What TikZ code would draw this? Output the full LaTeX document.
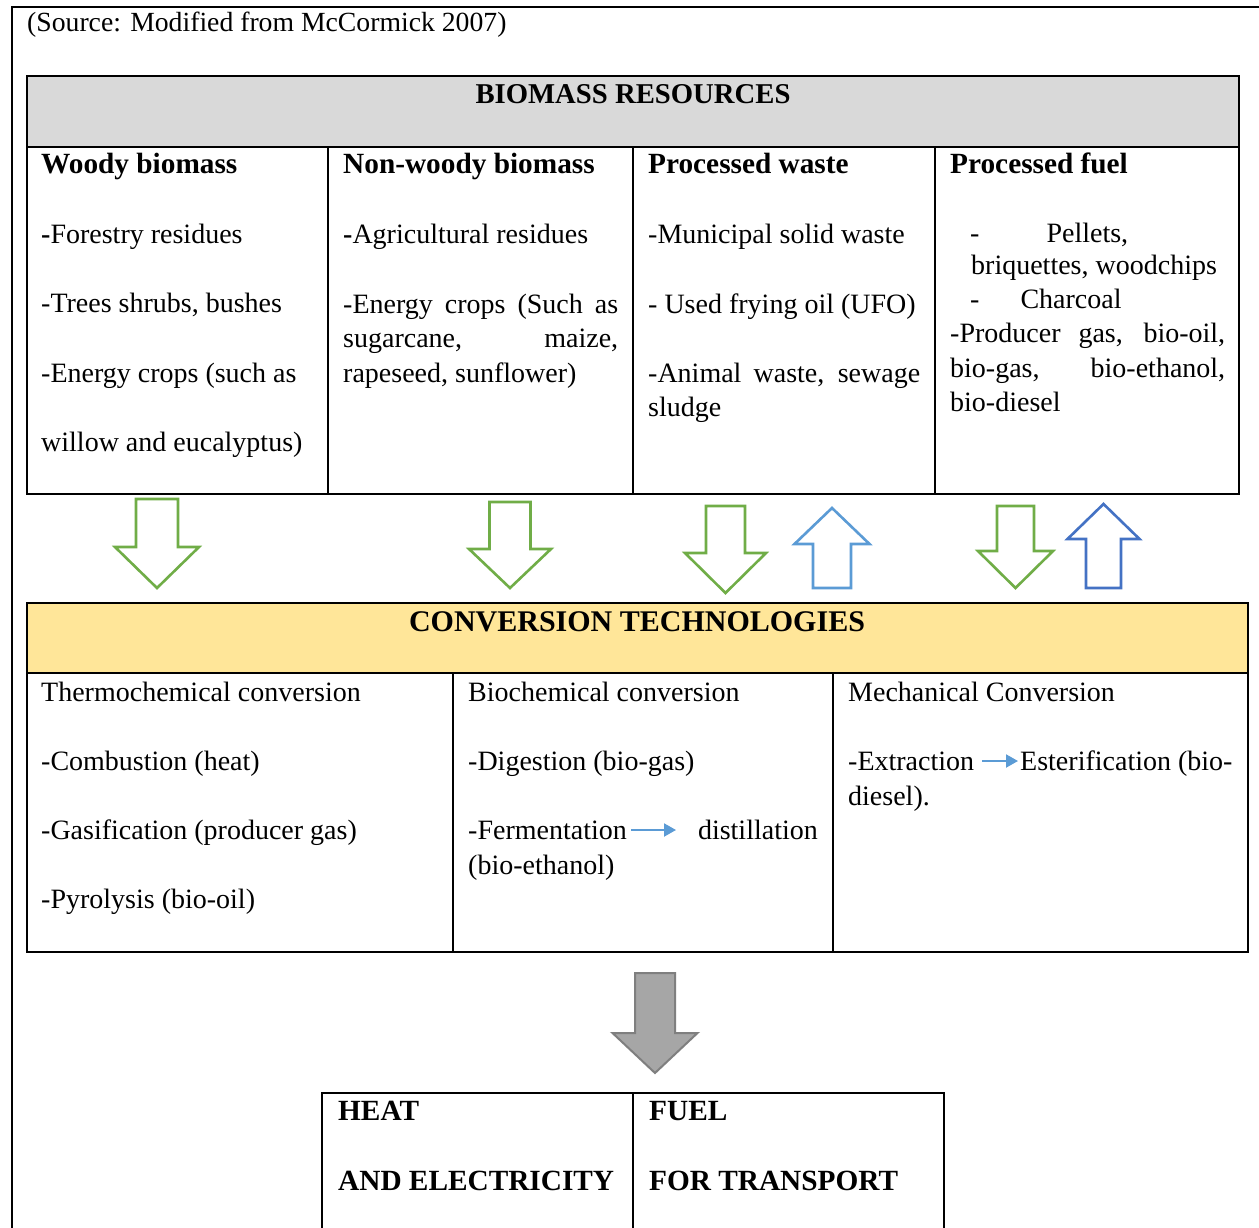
\documentclass[tikz,border=0pt]{standalone}
\usepackage{fontspec}
\setmainfont{Liberation Serif}
\usetikzlibrary{arrows.meta}

\definecolor{hdrgray}{HTML}{D9D9D9}
\definecolor{hdryellow}{HTML}{FFE699}
\definecolor{leafgreen}{HTML}{70AD47}
\definecolor{skyblue}{HTML}{5B9BD5}
\definecolor{royalblue}{HTML}{4472C4}
\definecolor{arrowgray}{HTML}{A6A6A6}
\definecolor{arrowedge}{HTML}{7F7F7F}

% block arrow: style, centre x, tail y, head-base y, tip y, shaft half width, head half width
\newcommand{\blockarrow}[7]{%
  \draw[#1] ({#2-#6},#3) -- ({#2+#6},#3) -- ({#2+#6},#4) -- ({#2+#7},#4)
    -- (#2,#5) -- ({#2-#7},#4) -- ({#2-#6},#4) -- cycle;}

\begin{document}
\begin{tikzpicture}[x=1pt,y=-1pt,
  cell/.style={draw=black, line width=2pt, anchor=north west, inner sep=0pt, outer sep=0pt},
  txt/.style={anchor=base west, inner sep=0pt, font=\fontsize{28}{34}\selectfont},
  head/.style={anchor=base west, inner sep=0pt, font=\fontsize{29.3}{34}\selectfont\bfseries},
  title/.style={anchor=base, inner sep=0pt, font=\fontsize{28.7}{34}\selectfont\bfseries},
  greenarrow/.style={draw=leafgreen, line width=2.6pt, fill=white, line join=miter},
  lightup/.style={draw=skyblue, line width=2.6pt, fill=white, line join=miter},
  darkup/.style={draw=royalblue, line width=2.6pt, fill=white, line join=miter},
  grayarrow/.style={draw=arrowedge, line width=2pt, fill=arrowgray, line join=miter},
  flow/.style={draw=skyblue, line width=2pt, -{Triangle[length=12pt,width=13pt]}}]

\useasboundingbox (0,0) rectangle (1259,1228);
\clip (0,0) rectangle (1259,1228);
\fill[white] (0,0) rectangle (1259,1228);

% outer frame (left and top edges)
\draw[line width=2pt] (12,1240) -- (12,7) -- (1270,7);

\node[txt, font=\fontsize{27.7}{34}\selectfont] (source) at (27,32) {(Source: Modified from McCormick 2007)};

% ---------- biomass resources table ----------
\node[cell, fill=hdrgray, minimum width=1212pt, minimum height=71pt] (reshead) at (27,76) {};
\node[cell, minimum width=301pt, minimum height=347pt] (woody) at (27,147) {};
\node[cell, minimum width=305pt, minimum height=347pt] (nonwoody) at (328,147) {};
\node[cell, minimum width=302pt, minimum height=347pt] (waste) at (633,147) {};
\node[cell, minimum width=304pt, minimum height=347pt] (fuel) at (935,147) {};
\node[title] (restitle) at (633,104) {BIOMASS RESOURCES};

\node[head] (woodyh) at (41,174) {Woody biomass};
\node[txt] (w1) at (41,243) {\textbf{-}Forestry residues};
\node[txt] (w2) at (41,312) {-Trees shrubs, bushes};
\node[txt] (w3) at (41,382) {-Energy crops (such as};
\node[txt] (w4) at (41,451) {willow and eucalyptus)};

\node[head] (nonwoodyh) at (343,174) {Non-woody biomass};
\node[txt] (n1) at (343,243) {\textbf{-}Agricultural residues};
\node[txt] (n2) at (343,313) {\makebox[275pt][s]{-Energy crops (Such as}};
\node[txt] (n3) at (343,347) {\makebox[275pt][s]{sugarcane, maize,}};
\node[txt] (n4) at (343,382) {rapeseed, sunflower)};

\node[head] (wasteh) at (648,174) {Processed waste};
\node[txt] (p1) at (648,243) {-Municipal solid waste};
\node[txt] (p2) at (648,313) {- Used frying oil (UFO)};
\node[txt] (p3) at (648,382) {\makebox[272pt][s]{-Animal waste, sewage}};
\node[txt] (p4) at (648,416) {sludge};

\node[head] (fuelh) at (950,174) {Processed fuel};
\node[txt] (f1) at (970,242) {-\hspace{67pt}Pellets,};
\node[txt] (f2) at (971,274) {briquettes, woodchips};
\node[txt] (f3) at (970,308) {-\hspace{41pt}Charcoal};
\node[txt] (f4) at (950,342) {\makebox[275pt][s]{-Producer gas, bio-oil,}};
\node[txt] (f5) at (950,377) {\makebox[275pt][s]{bio-gas, bio-ethanol,}};
\node[txt] (f6) at (950,411) {bio-diesel};

% ---------- arrows between the tables ----------
\blockarrow{greenarrow}{157}{499}{547}{588}{21}{42}
\blockarrow{greenarrow}{510}{502}{549}{588}{20.5}{41}
\blockarrow{greenarrow}{725.5}{506}{553}{593}{19.5}{40.5}
\blockarrow{lightup}{832}{588}{544}{508}{19}{37.5}
\blockarrow{greenarrow}{1015.5}{506}{551}{588}{18.5}{37.5}
\blockarrow{darkup}{1103.5}{588}{539}{504}{17.5}{36}

% ---------- conversion technologies table ----------
\node[cell, fill=hdryellow, minimum width=1221pt, minimum height=70pt] (convhead) at (27,603) {};
\node[cell, minimum width=426pt, minimum height=279pt] (thermo) at (27,673) {};
\node[cell, minimum width=380pt, minimum height=279pt] (bio) at (453,673) {};
\node[cell, minimum width=415pt, minimum height=279pt] (mech) at (833,673) {};
\node[title, font=\fontsize{30}{34}\selectfont\bfseries] (convtitle) at (637,631) {CONVERSION TECHNOLOGIES};

\node[txt] (t0) at (41,701) {Thermochemical conversion};
\node[txt] (t1) at (41,770) {-Combustion (heat)};
\node[txt] (t2) at (41,839) {-Gasification (producer gas)};
\node[txt] (t3) at (41,908) {-Pyrolysis (bio-oil)};

\node[txt] (b0) at (468,701) {Biochemical conversion};
\node[txt] (b1) at (468,770) {-Digestion (bio-gas)};
\node[txt] (ferm) at (468,839) {-Fermentation};
\node[txt, anchor=base east] (dist) at (818,839) {distillation};
\node[txt] (b3) at (468,874) {(bio-ethanol)};
\coordinate (fermend) at (676,830);
\draw[flow] (ferm.east |- fermend) ++(4,0) -- (fermend);

\node[txt] (m0) at (848,701) {Mechanical Conversion};
\node[txt] (extr) at (848,770) {-Extraction};
\node[txt] (ester) at (1020,770) {Esterification (bio-};
\node[txt] (m2) at (848,805) {diesel).};
\coordinate (extrend) at (1018,761);
\draw[flow] (extr.east |- extrend) ++(8,0) -- (extrend);

% ---------- output ----------
\blockarrow{grayarrow}{655}{973}{1033}{1073}{20}{42.5}

\node[cell, minimum width=311pt, minimum height=160pt] (heat) at (322,1093) {};
\node[cell, minimum width=311pt, minimum height=160pt] (transport) at (633,1093) {};
\node[head] (h1) at (338,1120) {HEAT};
\node[head] (h2) at (338,1190) {AND ELECTRICITY};
\node[head] (u1) at (649,1120) {FUEL};
\node[head] (u2) at (649,1190) {FOR TRANSPORT};

\end{tikzpicture}
\end{document}
